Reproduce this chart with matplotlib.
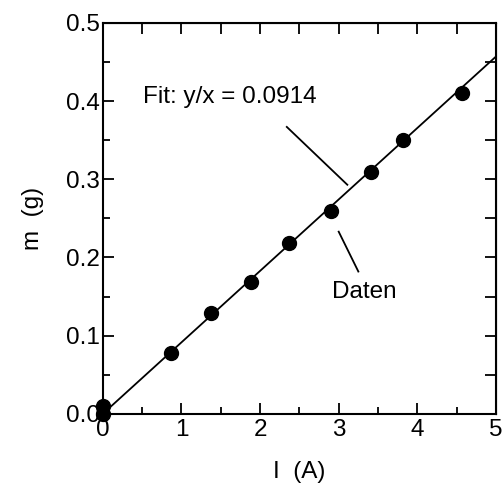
import matplotlib
matplotlib.use("Agg")
import matplotlib.pyplot as plt
import numpy as np
from matplotlib.ticker import MultipleLocator, FormatStrFormatter, NullFormatter

plt.rcParams['font.family'] = ['Liberation Sans', 'DejaVu Sans']

# Messwerte
strom = [0.0, 0.0, 0.87, 1.38, 1.88, 2.37, 2.90, 3.41, 3.82, 4.57]
masse = [0.0, 0.01, 0.078, 0.129, 0.169, 0.219, 0.259, 0.309, 0.350, 0.410]
steigung = 0.0914

fig = plt.figure(figsize=(5.04, 4.88), dpi=100)
ax = fig.add_axes([0.204, 0.152, 0.78, 0.801])

# Fit-Gerade
x_fit = np.array([0.0, 5.0])
ax.plot(x_fit, steigung * x_fit, color='black', lw=1.3)

# Daten
ax.plot(strom, masse, 'o', color='black', ms=10, clip_on=False, zorder=5)

ax.set_xlim(0, 5)
ax.set_ylim(0, 0.5)
ax.xaxis.set_major_locator(MultipleLocator(1))
ax.xaxis.set_minor_locator(MultipleLocator(0.5))
ax.yaxis.set_major_locator(MultipleLocator(0.1))
ax.yaxis.set_minor_locator(MultipleLocator(0.05))
ax.xaxis.set_major_formatter(FormatStrFormatter('%d'))
ax.yaxis.set_major_formatter(FormatStrFormatter('%.1f'))

ax.tick_params(which='both', direction='in', labelsize=17.5, width=1.3)
ax.tick_params(axis='x', pad=4)
ax.tick_params(axis='y', pad=2)
ax.tick_params(which='major', length=8)
ax.tick_params(which='minor', length=5)
for s in ax.spines.values():
    s.set_linewidth(1.5)

# oben und rechts: alle Striche gleich lang
oben = ax.secondary_xaxis('top')
oben.xaxis.set_major_locator(MultipleLocator(0.5))
oben.xaxis.set_major_formatter(NullFormatter())
oben.tick_params(direction='in', length=8, width=1.3)
rechts = ax.secondary_yaxis('right')
rechts.yaxis.set_major_locator(MultipleLocator(0.05))
rechts.yaxis.set_major_formatter(NullFormatter())
rechts.tick_params(direction='in', length=8, width=1.3)

ax.set_xlabel('I  (A)', fontsize=17.5, labelpad=14)
ax.set_ylabel('m  (g)', fontsize=17.5, labelpad=16)

# Beschriftungen
ax.text(0.51, 0.405, 'Fit: y/x = 0.0914', fontsize=17.5, va='center', ha='left')
ax.plot([2.34, 3.11], [0.367, 0.293], color='black', lw=1.3)
ax.text(3.32, 0.156, 'Daten', fontsize=17.5, va='center', ha='center')
ax.plot([3.00, 3.25], [0.233, 0.182], color='black', lw=1.3)

fig.savefig('out.png', dpi=100)
